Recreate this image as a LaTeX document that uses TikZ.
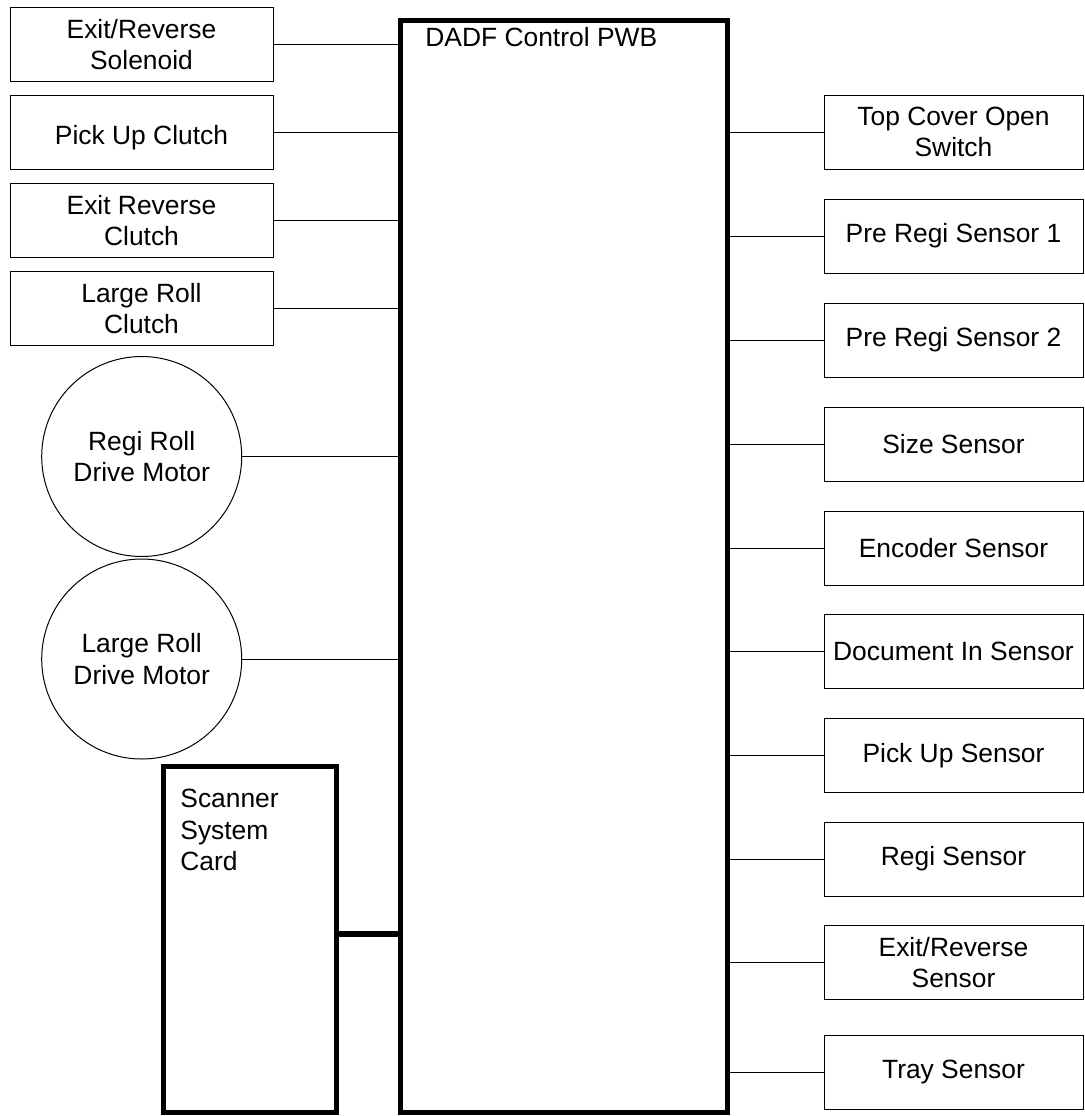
\documentclass[tikz,border=0pt]{standalone}
\usepackage{fontspec}
\setmainfont{Liberation Sans}
\usetikzlibrary{calc,shapes,positioning}

\begin{document}
\begin{tikzpicture}[x=0.5pt,y=-0.5pt,
  font=\fontsize{13.2pt}{15.6pt}\selectfont,
  part/.style={draw,line width=0.5pt,rectangle,align=center,inner sep=0pt},
  leftpart/.style={part,minimum width=131.5pt,minimum height=37pt},
  rightpart/.style={part,minimum width=129.5pt,minimum height=37pt},
  motor/.style={draw,line width=0.5pt,circle,align=center,inner sep=0pt,minimum size=100pt},
  board/.style={draw,line width=2.5pt,rectangle,inner sep=0pt},
  wire/.style={line width=0.5pt},
  bus/.style={line width=2.8pt}]
\useasboundingbox (0,0) rectangle (1084,1116);
% control board and scanner card
\node[board,minimum width=163.5pt,minimum height=546pt] (pwb) at (564,566) {};
\node[anchor=north west,inner sep=0pt] (pwbtext) at (425,27) {DADF Control PWB};
\node[board,minimum width=86.5pt,minimum height=172.75pt] (card) at (249.5,939.25) {};
\node[anchor=north west,inner sep=0pt,align=left] (cardtext) at (180,789) {Scanner\\System\\Card};
% left side
\node[leftpart] (solenoid) at (141.5,44.5) {Exit/Reverse\\Solenoid};
\node[leftpart,text height=14.5pt,text depth=2.8pt] (pickclutch) at (141.5,132.7) {Pick Up Clutch};
\node[leftpart] (exitclutch) at (141.5,220.7) {Exit Reverse\\Clutch};
\node[leftpart] (largeclutch) at (141.5,308.7) {Large Roll\\Clutch};
\node[motor] (regimotor) at (141.7,456.5) {Regi Roll\\Drive Motor};
\node[motor] (largemotor) at (141.7,659) {Large Roll\\Drive Motor};
% right side
\node[rightpart] (topcover) at (953.5,132) {Top Cover Open\\Switch};
\node[rightpart] (preregi1) at (953.5,236) {Pre Regi Sensor 1};
\node[rightpart] (preregi2) at (953.5,340) {Pre Regi Sensor 2};
\node[rightpart] (size) at (953.5,444) {Size Sensor};
\node[rightpart] (encoder) at (953.5,548) {Encoder Sensor};
\node[rightpart] (docin) at (953.5,651.5) {Document In Sensor};
\node[rightpart] (pickup) at (953.5,755.5) {Pick Up Sensor};
\node[rightpart] (regi) at (953.5,859) {Regi Sensor};
\node[rightpart] (exitsensor) at (953.5,962.5) {Exit/Reverse\\Sensor};
\node[rightpart] (tray) at (953.5,1072) {Tray Sensor};
% wiring
\draw[wire] (solenoid.east) -- (solenoid.east -| pwb.west);
\draw[wire] (pickclutch.east) -- (pickclutch.east -| pwb.west);
\draw[wire] (exitclutch.east) -- (exitclutch.east -| pwb.west);
\draw[wire] (largeclutch.east) -- (largeclutch.east -| pwb.west);
\draw[wire] (regimotor.east) -- (regimotor.east -| pwb.west);
\draw[wire] (largemotor.east) -- (largemotor.east -| pwb.west);
\draw[wire] (topcover.west) -- (topcover.west -| pwb.east);
\draw[wire] (preregi1.west) -- (preregi1.west -| pwb.east);
\draw[wire] (preregi2.west) -- (preregi2.west -| pwb.east);
\draw[wire] (size.west) -- (size.west -| pwb.east);
\draw[wire] (encoder.west) -- (encoder.west -| pwb.east);
\draw[wire] (docin.west) -- (docin.west -| pwb.east);
\draw[wire] (pickup.west) -- (pickup.west -| pwb.east);
\draw[wire] (regi.west) -- (regi.west -| pwb.east);
\draw[wire] (exitsensor.west) -- (exitsensor.west -| pwb.east);
\draw[wire] (tray.west) -- (tray.west -| pwb.east);
\draw[bus] ([yshift=2.5pt]card.east) -- ([yshift=2.5pt]card.east -| pwb.west);
\end{tikzpicture}
\end{document}
